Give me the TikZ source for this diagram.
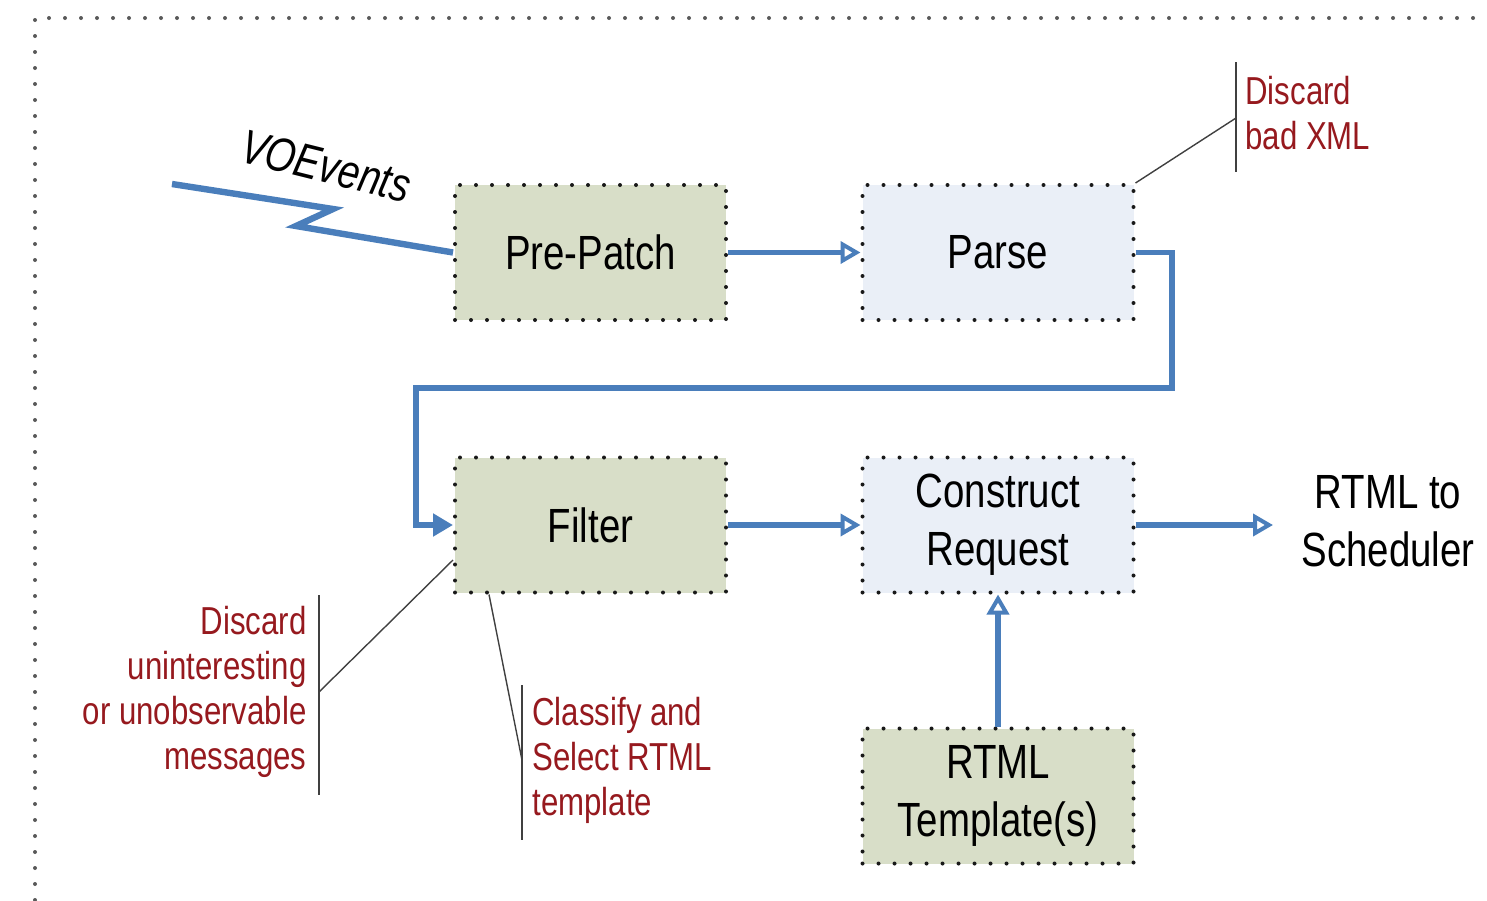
\documentclass[tikz,border=0pt]{standalone}
\usepackage{fontspec}
\setmainfont[FakeStretch=0.8]{Liberation Sans}
\usetikzlibrary{arrows.meta,calc}
\definecolor{flowblue}{RGB}{74,126,187}
\definecolor{olivefill}{RGB}{216,222,200}
\definecolor{bluefill}{RGB}{234,239,247}
\definecolor{notered}{RGB}{150,25,30}
\tikzset{
  framedots/.style={draw=black!65, line width=2pt, dash pattern=on 0pt off 8pt, line cap=round},
  stagebox/.style={draw=black!90, line width=2pt, dash pattern=on 0pt off 8pt, line cap=round,
    minimum width=135.5pt, minimum height=67.5pt, inner sep=0pt, align=center,
    font=\fontsize{24}{29}\selectfont},
  flow/.style={draw=flowblue, line width=2.6pt},
  openhead/.style={-{Triangle[open,length=10pt,width=11pt,line width=2pt]}},
  filledhead/.style={-{Triangle[length=10pt,width=11pt]}},
  calloutline/.style={draw=black!75, line width=0.7pt},
  calloutbar/.style={draw=black!75, line width=1pt},
  note/.style={text=notered, font=\fontsize{19.5}{22.5}\selectfont, inner sep=0pt},
  bigtext/.style={font=\fontsize{24}{29}\selectfont, inner sep=0pt, align=center}
}
\begin{document}
\begin{tikzpicture}[x=0.5pt,y=-0.5pt]
\useasboundingbox (0,0) rectangle (1487,900);
% outer frame
\draw[framedots] (35,900) -- (35,18) -- (1487,18);
% stages
\node[stagebox, fill=olivefill] (pp) at (590.5,252.5) {Pre-Patch};
\node[stagebox, fill=bluefill] (pa) at (998,252.5) {Parse};
\node[stagebox, fill=olivefill] (fi) at (590.5,525) {Filter};
\node[stagebox, fill=bluefill] (cr) at (998,525) {Construct\\Request};
\node[stagebox, fill=olivefill] (rt) at (998,796) {RTML\\Template(s)};
\node[bigtext] (sch) at (1388,521) {RTML to\\Scheduler};
% VOEvents
\node[font=\itshape\fontsize{24}{28}\selectfont, rotate=-14, inner sep=0pt] (voe) at (326,166) {VOEvents};
\coordinate (vs) at (172,184);
\draw[flow, line width=3.2pt] (vs) -- (333,209) -- (296,226) -- (pp.west);
% flow arrows
\draw[flow, openhead] (pp) -- (pa);
\coordinate (t1) at (1172,252.5);
\coordinate (t2) at (1172,388);
\coordinate (t3) at (416,388);
\coordinate (t4) at (416,525);
\draw[flow, filledhead] (pa.east) -- (t1) -- (t2) -- (t3) -- (t4) -- (fi.west);
\draw[flow, openhead] (fi) -- (cr);
\coordinate (schin) at (1273,525);
\draw[flow, openhead] (cr.east) -- (schin);
\draw[flow, openhead] (rt) -- (cr);
% callout: bad XML
\node[note, align=left, anchor=west] (nx) at (1245,113) {Discard\\bad XML};
\coordinate (bx1) at (1236,62);
\coordinate (bx2) at (1236,172);
\coordinate (bxm) at (1236,118);
\draw[calloutbar] (bx1) -- (bx2);
\draw[calloutline] (pa.north east) -- (bxm);
% callout: uninteresting
\node[note, align=right, anchor=east] (nu) at (307,692) {Discard\\uninteresting\\or unobservable\\messages};
\coordinate (bu1) at (319,595);
\coordinate (bu2) at (319,795);
\coordinate (bum) at (319,692);
\draw[calloutbar] (bu1) -- (bu2);
\draw[calloutline] ([yshift=-17.5pt]fi.west) -- (bum);
% callout: classify
\node[note, align=left, anchor=west] (nc) at (532,760) {Classify and\\Select RTML\\template};
\coordinate (bc1) at (522,685);
\coordinate (bc2) at (522,840);
\coordinate (bcm) at (522,760);
\draw[calloutbar] (bc1) -- (bc2);
\draw[calloutline] ([xshift=-50.75pt]fi.south) -- (bcm);
\end{tikzpicture}
\end{document}
